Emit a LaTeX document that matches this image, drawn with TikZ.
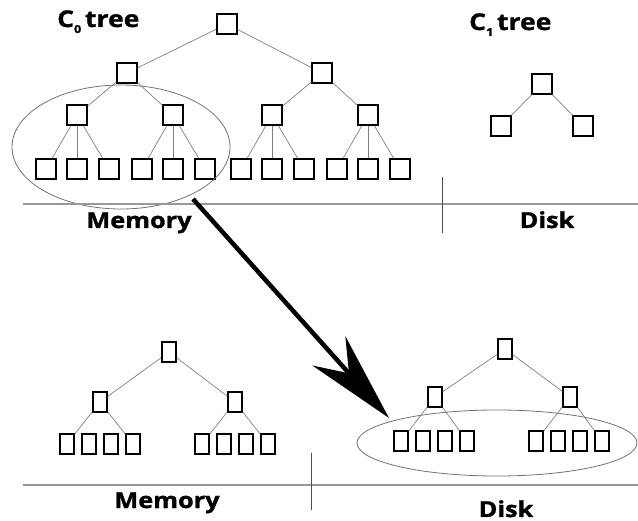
\documentclass[tikz,border=0pt]{standalone}
\usepackage{fontspec}
\newfontfamily\labelfont[FakeStretch=1.15,FakeBold=1.3]{Open Sans}
\usetikzlibrary{arrows.meta}
\tikzset{box/.style={draw,line width=1.4pt,minimum width=20pt,minimum height=20pt,inner sep=0pt},
         slim/.style={box,minimum width=14pt,minimum height=20pt},
         link/.style={draw=gray,line width=0.7pt},
         rule/.style={draw=black!40,line width=1.1pt},
         split/.style={draw=black!70,line width=0.6pt},
         group/.style={draw=black!55,line width=0.8pt},
         move/.style={line width=4.5pt,-{Stealth[length=90pt,width=44pt,inset=30pt]}},
         title/.style={font=\labelfont\bfseries\fontsize{23}{23}\selectfont,inner sep=0pt,anchor=base west},
         place/.style={font=\labelfont\bfseries\fontsize{22}{22}\selectfont,inner sep=0pt,anchor=base}}

\begin{document}
\begin{tikzpicture}[x=1pt,y=-1pt]
\useasboundingbox (0,0) rectangle (638,521);

% C0 tree in memory
\node[box] (top) at (227,24) {};
\node[box] (ta) at (127,73) {};
\node[box] (tb) at (322,73) {};
\draw[link] (top) -- (ta);
\draw[link] (top) -- (tb);
\foreach \p/\x/\q in {1/77/ta,2/173/ta,3/272/tb,4/368/tb} {
  \node[box] (m\p) at (\x,115) {};
  \draw[link] (\q) -- (m\p);
  \foreach \d/\i in {-31/a,0/b,32/c} {
    \node[box] (m\p\i) at (\x+\d,169) {};
    \draw[link] (m\p) -- (m\p\i);
  }
}
\draw[group] (121,147) ellipse (109pt and 62pt);

% C1 tree on disk
\node[box] (cr) at (542,84) {};
\node[box] (ca) at (501,126) {};
\node[box] (cb) at (583,126) {};
\draw[link] (cr) -- (ca);
\draw[link] (cr) -- (cb);

\node[title] (c0) at (57,27) {C\raisebox{-6pt}{\fontsize{11}{11}\selectfont 0}\,tree};
\node[title] (c1) at (469,30) {C\raisebox{-6pt}{\fontsize{11}{11}\selectfont 1}\,tree};

\draw[rule] (23,204) -- (638,204);
\draw[split] (442,177) -- (442,233);
\node[place] (mem1) at (139,228) {Memory};
\node[place] (disk1) at (547,228) {Disk};

% merge step
\coordinate (from) at (193,199);
\coordinate (to) at (389,418);
\draw[move] (from) -- (to);

% what is left in memory
\node[slim] (lr) at (169,352) {};
\foreach \s/\x in {a/100,b/235} {
  \node[slim] (l\s) at (\x,402) {};
  \draw[link] (lr) -- (l\s);
  \foreach \d/\i in {-33/1,-11/2,11/3,33/4}
    \node[slim] (l\s\i) at (\x+\d,444) {};
  \draw[link] (l\s) -- (l\s1);
  \draw[link] (l\s) -- (l\s4);
}

% merged tree on disk
\node[slim] (dr) at (505,349) {};
\foreach \s/\x in {a/435,b/570} {
  \node[slim] (d\s) at (\x,397) {};
  \draw[link] (dr) -- (d\s);
  \foreach \d/\i in {-34/1,-12/2,10/3,32/4}
    \node[slim] (d\s\i) at (\x+\d,441) {};
  \draw[link] (d\s) -- (d\s1);
  \draw[link] (d\s) -- (d\s4);
}
\draw[group] (497,443) ellipse (140pt and 33pt);

\draw[rule] (23,485) -- (638,485);
\draw[split] (311,453) -- (311,510);
\node[place] (mem2) at (167,508) {Memory};
\node[place] (disk2) at (506,517) {Disk};
\end{tikzpicture}
\end{document}
